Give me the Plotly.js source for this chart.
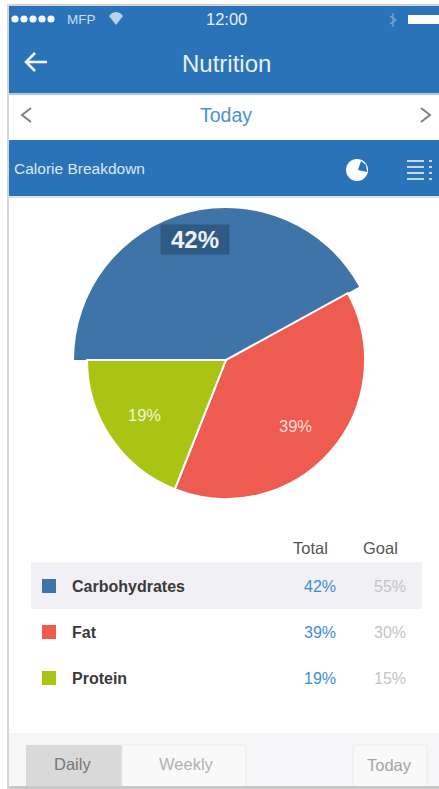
<!DOCTYPE html>
<html>
<head>
<meta charset="utf-8">
<script src="https://cdn.plot.ly/plotly-3.0.1.min.js"></script>
<style>html,body{margin:0;padding:0;background:#fff}#chart{width:439px;height:789px}</style>
</head>
<body>
<div id="chart"></div>
<script>
const W = 439, H = 789;

// Nutrition figures
const macros = ['Carbohydrates', 'Fat', 'Protein'];
const totalPct = [42, 39, 19];
const goalPct = [55, 30, 15];
const sliceColors = ['#3e74a7', '#ee5b51', '#a9c413'];

const FONT = '"Liberation Sans", Arial, sans-serif';
const BAR_BLUE = '#2a73b9';

// Screen pixels to paper fractions
const fx = x => x / W;
const fy = y => 1 - y / H;

const rect = (x0, y0, x1, y1, fill, line) => ({
  type: 'rect', xref: 'paper', yref: 'paper',
  x0: fx(x0), x1: fx(x1), y0: fy(y0), y1: fy(y1),
  fillcolor: fill, line: line ? {color: line, width: 1} : {width: 0}
});
const circle = (cx, cy, r, fill) => ({
  type: 'circle', xref: 'paper', yref: 'paper',
  x0: fx(cx - r), x1: fx(cx + r), y0: fy(cy + r), y1: fy(cy - r),
  fillcolor: fill, line: {width: 0}
});
// Polyline through pixel points
const stroke = (pts, color, width) => ({
  type: 'path', xref: 'paper', yref: 'paper',
  path: pts.map((p, i) => (i ? 'L' : 'M') + fx(p[0]) + ',' + fy(p[1])).join(' '),
  line: {color: color, width: width}, fillcolor: 'rgba(0,0,0,0)'
});
const solid = (pts, color) => ({
  type: 'path', xref: 'paper', yref: 'paper',
  path: pts.map((p, i) => (i ? 'L' : 'M') + fx(p[0]) + ',' + fy(p[1])).join(' ') + ' Z',
  line: {width: 0}, fillcolor: color
});
const label = (x, y, text, size, color, anchor, extra) => Object.assign({
  xref: 'paper', yref: 'paper', x: fx(x), y: fy(y),
  text: text, showarrow: false, xanchor: anchor || 'center', yanchor: 'middle',
  font: {family: FONT, size: size, color: color}, borderpad: 0
}, extra || {});

const shapes = [
  // Frame, header bars and toolbar
  rect(0, 0, W, 5, '#ffffff'),
  rect(8, 4, W, 6, '#d2d2d2'),
  rect(7, 4, 9, H, '#d6d6d6'),
  rect(9, 6, W, 93, BAR_BLUE),
  rect(9, 93, W, 95, '#a8c8e4'),
  rect(9, 140, W, 196, BAR_BLUE),
  rect(9, 196, W, 198, '#d5e4f2'),
  rect(9, 733, W, H, '#f6f6f8'),
  rect(26, 745, 122, H, '#d9d9d9'),
  rect(122, 745, 246, H, '#f9f9fa', '#ececee'),
  rect(353, 745, 427, H, '#f9f9fa', '#ececee'),
  rect(9, 786, W, H, '#c8c8c8'),
  // Highlighted table row
  rect(31, 562, 422, 609, '#f0f0f5'),
  // Status bar battery
  rect(408, 15, W, 24, '#ffffff'),
  // Back arrow
  stroke([[26, 62], [47, 62]], '#f2f6fa', 2.6),
  stroke([[35, 53], [26, 62], [35, 71]], '#f2f6fa', 2.6),
  // Day chevrons
  stroke([[31, 108], [22, 115], [31, 122]], '#808080', 2),
  stroke([[421, 108], [430, 115], [421, 122]], '#808080', 2),
  // Pie view icon
  circle(357, 170, 11, '#ffffff'),
  solid([[358, 170], [361, 161], [366, 165], [367, 172]], BAR_BLUE),
  // Bluetooth glyph
  stroke([[390, 16], [396, 20], [390, 24]], '#7fa9d3', 1.2),
  stroke([[393, 13], [393, 27]], '#7fa9d3', 1.2),
  // Wi-Fi fan
  solid([[116, 25], [109, 16], [112, 13], [116, 12], [120, 13], [123, 16]], '#b9d3ea')
];

// Signal dots
[15, 24, 33, 42, 51].forEach(x => shapes.push(circle(x, 19, 3.6, '#f4f8fb')));

// List view icon
[161, 167, 173, 179].forEach(y => {
  shapes.push(rect(407, y - 1, 424, y + 1, '#c5d9ec'));
  shapes.push(rect(429, y - 1, 432, y + 1, '#c5d9ec'));
});

const annotations = [
  label(66, 19, 'MFP', 13.5, '#c9ddef', 'left'),
  label(226, 19, '12:00', 16.5, '#e8f0f8'),
  label(226, 63, 'Nutrition', 24, '#e8f0f8'),
  label(226, 115, 'Today', 19.5, '#4a92d2'),
  label(13, 169, 'Calorie Breakdown', 15.5, '#dbe8f4', 'left'),
  // Slice percentages
  label(195, 239, '<b>' + totalPct[0] + '%</b>', 24, '#eef1f5', 'center',
        {bgcolor: '#2e5a84', width: 68, height: 29}),
  label(295, 426, totalPct[1] + '%', 16.5, '#fbdcd9'),
  label(144, 415, totalPct[2] + '%', 16.5, '#f3f6da'),
  // Table heads
  label(310, 548, 'Total', 16.5, '#555555'),
  label(380, 548, 'Goal', 16.5, '#555555'),
  // Toolbar buttons
  label(72, 764, 'Daily', 16.5, '#777777'),
  label(186, 764, 'Weekly', 16.5, '#b2b2b2'),
  label(389, 765, 'Today', 16.5, '#a5a5a5')
];

// Table rows
const rowY = [586, 632, 678];
macros.forEach((name, i) => {
  const y = rowY[i];
  shapes.push(rect(42, y - 7, 56, y + 7, sliceColors[i]));
  annotations.push(label(71, y, '<b>' + name + '</b>', 16, '#3a3a3a', 'left'));
  annotations.push(label(320, y, totalPct[i] + '%', 16, '#3f8fd0'));
  annotations.push(label(390, y, goalPct[i] + '%', 16, '#c4c4c4'));
});

const pieBase = {
  type: 'pie', labels: macros, values: totalPct, sort: false,
  direction: 'clockwise', rotation: -90, textinfo: 'none',
  hoverinfo: 'label+percent', showlegend: false
};

const traces = [
  // Carbohydrates slice sits on a wider radius than the others
  Object.assign({}, pieBase, {
    domain: {x: [fx(74), fx(378)], y: [fy(512), fy(208)]},
    marker: {
      colors: [sliceColors[0], 'rgba(0,0,0,0)', 'rgba(0,0,0,0)'],
      line: {color: 'rgba(0,0,0,0)', width: 0}
    }
  }),
  Object.assign({}, pieBase, {
    domain: {x: [fx(87), fx(365)], y: [fy(499), fy(221)]},
    marker: {
      colors: ['rgba(0,0,0,0)', sliceColors[1], sliceColors[2]],
      line: {color: ['rgba(0,0,0,0)', '#ffffff', '#ffffff'], width: 2}
    }
  })
];

const layout = {
  width: W, height: H,
  margin: {l: 0, r: 0, t: 0, b: 0},
  paper_bgcolor: '#ffffff',
  font: {family: FONT},
  shapes: shapes,
  annotations: annotations
};

Plotly.newPlot('chart', traces, layout, {displayModeBar: false, staticPlot: true});
</script>
</body>
</html>
